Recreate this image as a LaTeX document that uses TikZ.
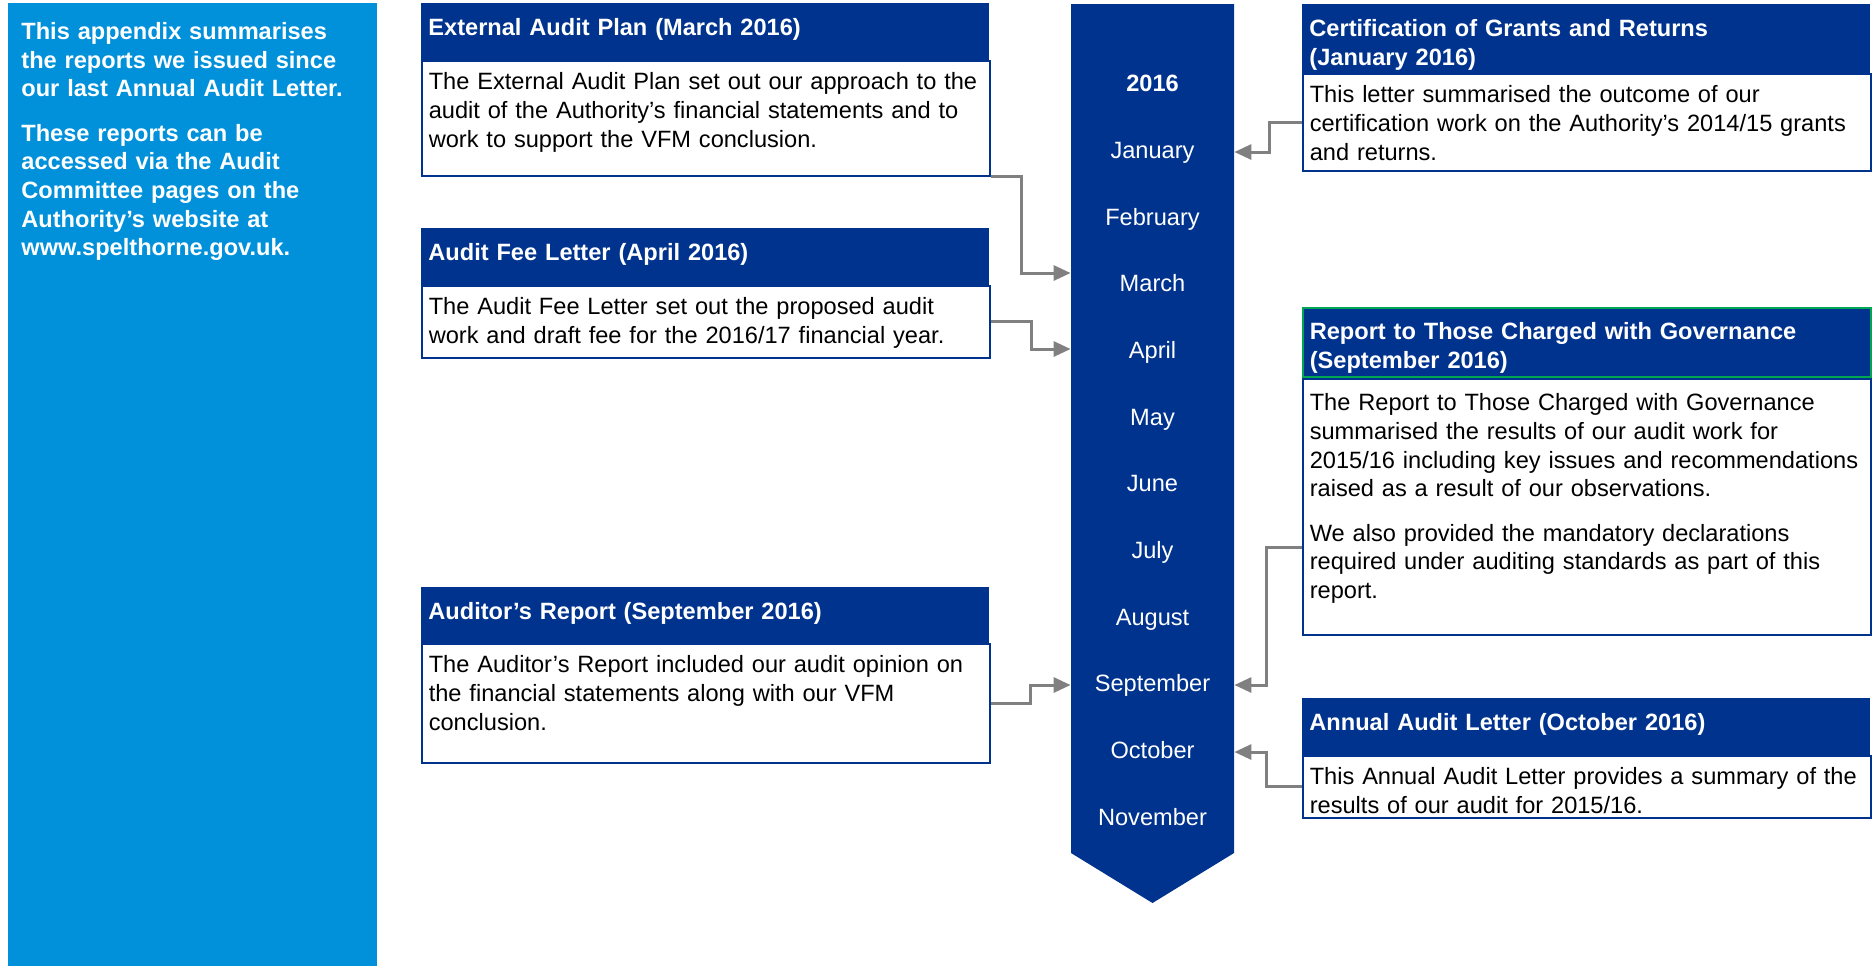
\documentclass[tikz,border=0pt]{standalone}
\usepackage{fontspec}
\setmainfont{Liberation Sans}
\definecolor{audnavy}{RGB}{0,51,141}
\definecolor{audcyan}{RGB}{0,145,218}
\definecolor{audgray}{RGB}{128,128,128}
\definecolor{audgreen}{RGB}{0,166,81}
\usetikzlibrary{arrows.meta}

\begin{document}
\begin{tikzpicture}[x=0.5pt,y=-0.5pt,
  font=\fontsize{11.8}{14.3}\selectfont,
  headbox/.style={anchor=north west,fill=audnavy,text=white,font=\fontsize{11.8}{14.3}\selectfont\bfseries,
    text width=277pt,inner xsep=3.5pt,inner ysep=0pt,align=left,text height=16pt,text depth=#1-16pt},
  bodybox/.style={anchor=north west,draw=audnavy,line width=0.8pt,fill=white,
    text width=277pt,inner xsep=3.5pt,inner ysep=0pt,align=left,text height=14.5pt,text depth=#1-14.5pt},
  month/.style={text=white,minimum width=81.5pt,inner sep=0pt,text height=9pt,text depth=3pt},
  arr/.style={-{Triangle[length=8.5pt,width=7.5pt]},line width=1.5pt,audgray}
]
  \useasboundingbox (0,0) rectangle (1873,966);

  % Summary panel
  \node[anchor=north west,fill=audcyan,text=white,font=\fontsize{11.8}{14.3}\selectfont\bfseries,
    text width=171.5pt,inner xsep=6.5pt,inner ysep=0pt,align=left,
    text height=18pt,text depth=463.5pt] (intro) at (8,3) {
    This appendix summarises\\the reports we issued since\\our last Annual Audit Letter.\\[8pt]
    These reports can be\\accessed via the Audit\\Committee pages on the\\Authority’s website at\\www.spelthorne.gov.uk.};

  % Timeline
  \fill[audnavy] (1071,4) -- (1234,4) -- (1234,853) -- (1152.5,903) -- (1071,853) -- cycle;
  \node[month,font=\fontsize{11.8}{14.3}\selectfont\bfseries] (year) at (1152.5,85) {2016};
  \node[month] (jan) at (1152.5,152) {January};
  \node[month] (feb) at (1152.5,219) {February};
  \node[month] (mar) at (1152.5,285) {March};
  \node[month] (apr) at (1152.5,352) {April};
  \node[month] (may) at (1152.5,419) {May};
  \node[month] (jun) at (1152.5,485) {June};
  \node[month] (jul) at (1152.5,552) {July};
  \node[month] (aug) at (1152.5,619) {August};
  \node[month] (sep) at (1152.5,685) {September};
  \node[month] (oct) at (1152.5,752) {October};
  \node[month] (nov) at (1152.5,819) {November};

  % Reports on the left
  \node[headbox=28.5pt] (planhead) at (421,3) {External Audit Plan (March 2016)};
  \node[bodybox=57.5pt] (plan) at (421,60) {The External Audit Plan set out our approach to the\\
    audit of the Authority’s financial statements and to\\work to support the VFM conclusion.};

  \node[headbox=28.5pt] (feehead) at (421,228) {Audit Fee Letter (April 2016)};
  \node[bodybox=36pt] (fee) at (421,285) {The Audit Fee Letter set out the proposed audit\\
    work and draft fee for the 2016/17 financial year.};

  \node[headbox=28pt] (audhead) at (421,587) {Auditor’s Report (September 2016)};
  \node[bodybox=59.5pt] (aud) at (421,643) {The Auditor’s Report included our audit opinion on\\
    the financial statements along with our VFM\\conclusion.};

  % Reports on the right
  \node[headbox=34.5pt] (certhead) at (1302,4) {Certification of Grants and Returns\\(January 2016)};
  \node[bodybox=48.5pt] (cert) at (1302,73) {This letter summarised the outcome of our\\
    certification work on the Authority’s 2014/15 grants\\and returns.};

  \node[headbox=34.5pt,draw=audgreen,line width=0.8pt] (govhead) at (1302,307)
    {Report to Those Charged with Governance\\(September 2016)};
  \node[bodybox=126.5pt,text height=16pt] (gov) at (1302,378) {The Report to Those Charged with Governance\\
    summarised the results of our audit work for\\2015/16 including key issues and recommendations\\
    raised as a result of our observations.\\[8pt]
    We also provided the mandatory declarations\\required under auditing standards as part of this\\report.};

  \node[headbox=28.5pt] (annhead) at (1302,698) {Annual Audit Letter (October 2016)};
  \node[bodybox=31pt] (ann) at (1302,755) {This Annual Audit Letter provides a summary of the\\
    results of our audit for 2015/16.};

  % Links into the timeline
  \draw[arr] (plan.south east) -- ++(31,0) |- ([yshift=6pt]mar.west);
  \draw[arr] (fee.east) -- ++(41,0) |- ([yshift=1.5pt]apr.west);
  \draw[arr] (aud.east) -- ++(40,0) |- (sep.west);
  \draw[arr] (cert.west) -- ++(-33,0) |- (jan.east);
  \draw[arr] ([yshift=-20.5pt]gov.west) -- ++(-36,0) |- (sep.east);
  \draw[arr] (ann.west) -- ++(-36,0) |- (oct.east);
\end{tikzpicture}
\end{document}
